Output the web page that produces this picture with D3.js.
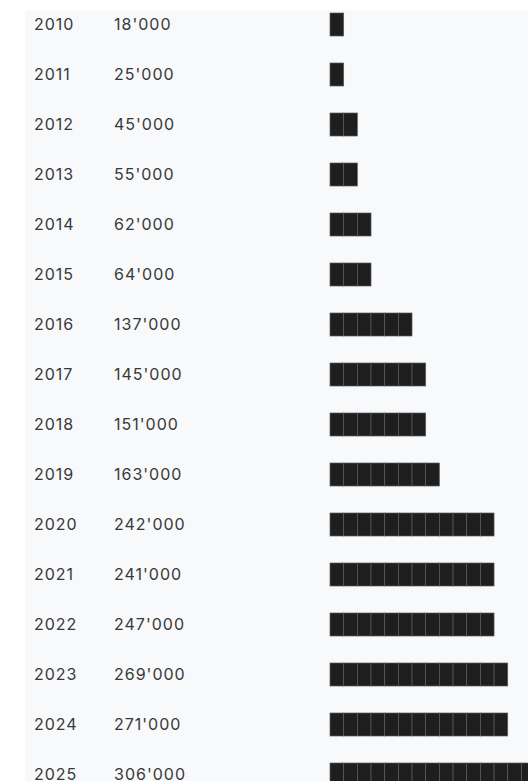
<!DOCTYPE html>
<html>
<head>
<meta charset="utf-8">
<script src="https://cdn.jsdelivr.net/npm/d3@7"></script>
<style>
  body { margin: 0; background: #fff; }
  svg { display: block; }
</style>
</head>
<body>
<div id="chart"></div>
<script>
// data
const years = [2010, 2011, 2012, 2013, 2014, 2015, 2016, 2017, 2018, 2019, 2020, 2021, 2022, 2023, 2024, 2025];
const values = [18000, 25000, 45000, 55000, 62000, 64000, 137000, 145000, 151000, 163000, 242000, 241000, 247000, 269000, 271000, 306000];
// number of unit blocks drawn for each year
const blocks = [1, 1, 2, 2, 3, 3, 6, 7, 7, 8, 12, 12, 12, 13, 13, 15];

const width = 528, height = 781;

const svg = d3.select("#chart")
  .append("svg")
  .attr("width", width)
  .attr("height", height);

// panel background
svg.append("rect")
  .attr("x", 25).attr("y", 10)
  .attr("width", width - 25).attr("height", height - 10)
  .attr("fill", "#f8f9fa");

// row positions
const y = d3.scaleBand()
  .domain(years)
  .range([0, 800])
  .paddingInner(0);

// block scale: one unit = one block
const x = d3.scaleLinear()
  .domain([0, 1])
  .range([330, 330 + 13.67]);

const fmt = v => d3.format(",")(v).replace(/,/g, "'");

const rows = svg.selectAll("g.row")
  .data(years.map((yr, i) => ({ year: yr, value: values[i], n: blocks[i] })))
  .join("g")
  .attr("class", "row")
  .attr("transform", d => "translate(0," + (y(d.year) + 24.5) + ")");

rows.append("text")
  .attr("x", 34)
  .attr("dy", "0.36em")
  .attr("font-family", "Inter, sans-serif")
  .attr("font-size", 16)
  .attr("letter-spacing", 1)
  .attr("fill", "#383838")
  .text(d => d.year);

rows.append("text")
  .attr("x", 114)
  .attr("dy", "0.36em")
  .attr("font-family", "Inter, sans-serif")
  .attr("font-size", 16)
  .attr("letter-spacing", 1)
  .attr("fill", "#383838")
  .text(d => fmt(d.value));

rows.selectAll("rect.block")
  .data(d => d3.range(d.n))
  .join("rect")
  .attr("class", "block")
  .attr("x", k => x(k))
  .attr("y", -11.5)
  .attr("width", x(1) - x(0))
  .attr("height", 23)
  .attr("fill", "#1e1e1e")
  .attr("stroke", "#5c5c5c")
  .attr("stroke-width", 0.7);
</script>
</body>
</html>
